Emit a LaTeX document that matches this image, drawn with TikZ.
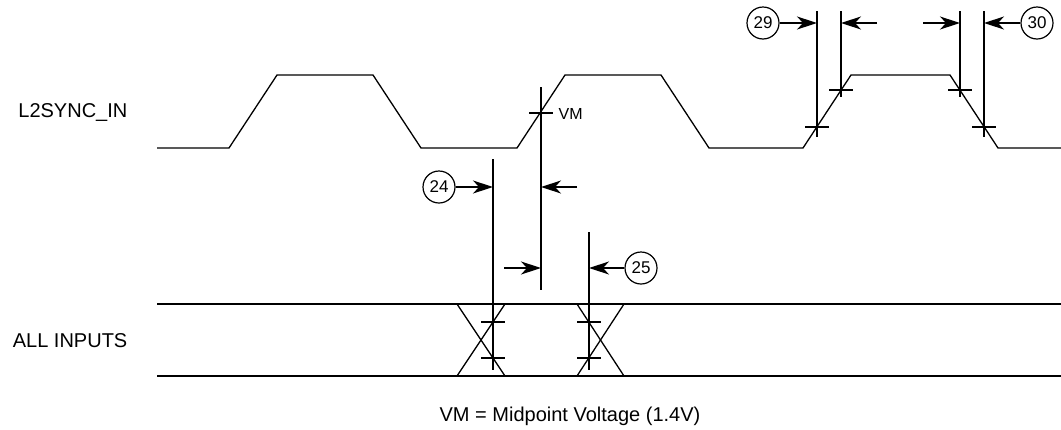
\documentclass[tikz,border=0pt]{standalone}
\usepackage{fontspec}
\setmainfont{Liberation Sans}
\usetikzlibrary{arrows.meta}
\begin{document}
\begin{tikzpicture}[x=1pt,y=-1pt,line width=1.3pt,
  wave/.style={line width=1.3pt,line join=miter},
  arr/.style={-{Stealth[length=20pt,width=13pt,inset=6pt]}},
  circ/.style={draw,circle,minimum size=32pt,inner sep=0pt,line width=1.2pt,font=\fontsize{17}{20}\selectfont},
  lbl/.style={font=\fontsize{20}{24}\selectfont,inner sep=0pt},
  small/.style={font=\fontsize{16}{19}\selectfont,inner sep=0pt}
]
\useasboundingbox (0,0) rectangle (1061,429);

% labels
\node[lbl,anchor=base east] (lclk) at (128,117) {L2SYNC\_IN};
\node[lbl,anchor=base east] (lbus) at (128,347) {ALL INPUTS};
\node[lbl,anchor=base] (note) at (570,421) {VM = Midpoint Voltage (1.4V)};
\node[small,anchor=base west] (vm) at (558,119) {VM};

% clock waveform
\draw[wave] (157,148) -- (229,148) -- (277,75) -- (373,75) -- (421,148)
  -- (517,148) -- (565,75) -- (661,75) -- (709,148)
  -- (803,148) -- (851,75) -- (950,75) -- (998,148) -- (1061,148);

% bus
\draw (157,304) -- (1061,304);
\draw (157,376) -- (1061,376);
\draw (457,304) -- (505,376);
\draw (457,376) -- (505,304);
\draw (577,304) -- (624,376);
\draw (577,376) -- (624,304);

% vertical reference lines
\coordinate (v24t) at (493,159); \coordinate (v24b) at (493,370);
\coordinate (vmt) at (541,87);   \coordinate (vmb) at (541,290);
\coordinate (v25t) at (589,232); \coordinate (v25b) at (589,370);
\coordinate (a1t) at (817,11);   \coordinate (a1b) at (817,137);
\coordinate (a2t) at (841,11);   \coordinate (a2b) at (841,97);
\coordinate (a3t) at (960,11);   \coordinate (a3b) at (960,97);
\coordinate (a4t) at (984,11);   \coordinate (a4b) at (984,137);
\foreach \p in {v24,vm,v25,a1,a2,a3,a4} \draw (\p t) -- (\p b);

% tick marks
\draw (529,113) -- (553,113);
\draw (481,322) -- (505,322);
\draw (481,358) -- (505,358);
\draw (577,322) -- (601,322);
\draw (577,358) -- (601,358);
\draw (805,127) -- (829,127);
\draw (829,90) -- (853,90);
\draw (948,90) -- (972,90);
\draw (972,127) -- (996,127);

% circled numbers
\node[circ] (c24) at (439,187) {24};
\node[circ] (c25) at (641,268) {25};
\node[circ] (c29) at (763,23) {29};
\node[circ] (c30) at (1037,23) {30};

% arrows
\coordinate (p24) at (493,187);
\coordinate (q24s) at (577,187); \coordinate (q24e) at (541,187);
\coordinate (q25s) at (504,268); \coordinate (q25e) at (541,268);
\coordinate (p25) at (589,268);
\coordinate (p29) at (817,23);
\coordinate (q29s) at (877,23); \coordinate (q29e) at (841,23);
\coordinate (q30s) at (923,23); \coordinate (q30e) at (960,23);
\coordinate (p30) at (984,23);
\draw[arr] (c24) -- (p24);
\draw[arr] (q24s) -- (q24e);
\draw[arr] (q25s) -- (q25e);
\draw[arr] (c25) -- (p25);
\draw[arr] (c29) -- (p29);
\draw[arr] (q29s) -- (q29e);
\draw[arr] (q30s) -- (q30e);
\draw[arr] (c30) -- (p30);
\end{tikzpicture}
\end{document}
